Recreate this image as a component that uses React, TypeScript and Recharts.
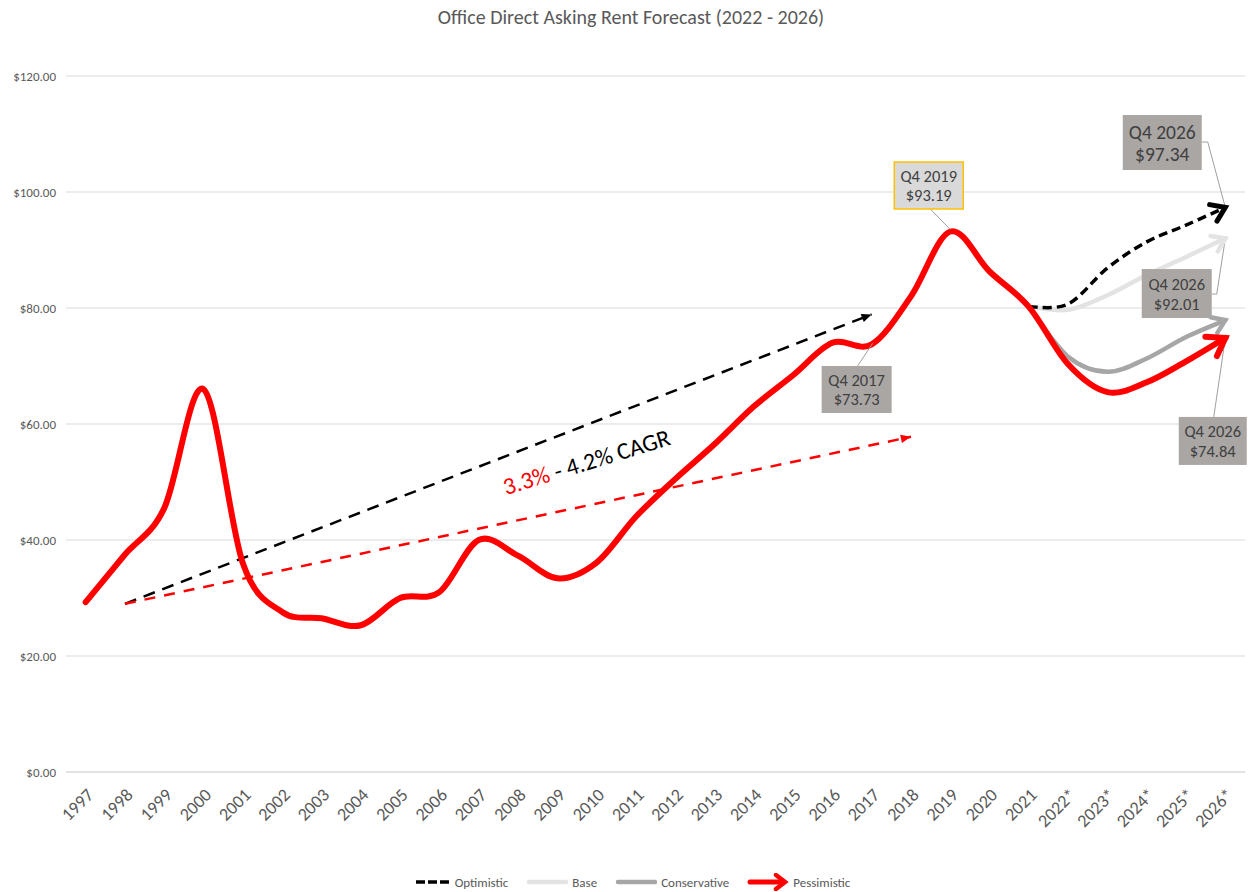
import React from "react";
import { CartesianGrid, Legend, Line, LineChart, ReferenceDot, XAxis, YAxis } from "recharts";

const years = [
  "1997", "1998", "1999", "2000", "2001", "2002", "2003", "2004", "2005", "2006",
  "2007", "2008", "2009", "2010", "2011", "2012", "2013", "2014", "2015", "2016",
  "2017", "2018", "2019", "2020", "2021", "2022*", "2023*", "2024*", "2025*", "2026*",
];

// historical rent 1997-2021, then the pessimistic forecast
const pessimistic = [
  29.3, 37.5, 45.5, 66.0, 36.0, 27.6, 26.5, 25.3, 30.0, 31.0,
  40.0, 37.3, 33.4, 36.1, 44.0, 50.5, 56.5, 63.0, 68.4, 74.0,
  73.73, 82.0, 93.19, 86.3, 80.2, 70.3, 65.5, 67.2, 70.8, 74.84,
];

// forecasts start at 2021
const forecastYears = ["2021", "2022*", "2023*", "2024*", "2025*", "2026*"];
const optimistic = [80.2, 80.7, 86.9, 91.4, 94.3, 97.34];
const base = [80.2, 79.7, 82.2, 85.7, 88.8, 92.01];
const conservative = [80.2, 71.6, 69.0, 71.3, 75.0, 77.9];

// CAGR trend lines
const trendHighYears = ["1998", "2017"];
const trendHigh = [29.0, 78.9];
const trendLowYears = ["1998", "2018"];
const trendLow = [29.0, 57.8];

const yTicks = [0, 20, 40, 60, 80, 100, 120];

const callouts = [
  { id: "q419", year: "2019", value: 93.19, label: "Q4 2019", price: "$93.19" },
  { id: "q417", year: "2017", value: 73.73, label: "Q4 2017", price: "$73.73" },
  { id: "opt", year: "2026*", value: 97.34, label: "Q4 2026", price: "$97.34" },
  { id: "base", year: "2026*", value: 92.01, label: "Q4 2026", price: "$92.01" },
  { id: "pess", year: "2026*", value: 74.84, label: "Q4 2026", price: "$74.84" },
];

const calloutLayout: Record<string, any> = {
  q419: { box: [-56, -69.5], w: 69, h: 47, fs: 16.5, fill: "#d9d9d9", stroke: "#ffc000", leader: [[-20, -22.5], [0, -2]] },
  q417: { box: [-50, 21.6], w: 70, h: 47, fs: 16.5, fill: "#aaa6a4", leader: [[-14, 21.6], [1, -1]] },
  opt: { box: [-102.6, -92.4], w: 79, h: 55, fs: 19.5, fill: "#aaa6a4", leader: [[-23.6, -65.4], [-17.6, -65.4], [0, 0]] },
  base: { box: [-83.6, 30.7], w: 70, h: 49, fs: 16.5, fill: "#aaa6a4", leader: [[-13.6, 55.7], [-8.6, 55.7], [0, 0]] },
  pess: { box: [-46.6, 79], w: 68, h: 48, fs: 16.5, fill: "#aaa6a4", leader: [[-11.6, 79], [0, 0]] },
};

const rows = years.map((year, i) => {
  const f = forecastYears.indexOf(year);
  const th = trendHighYears.indexOf(year);
  const tl = trendLowYears.indexOf(year);
  return {
    year,
    pessimistic: pessimistic[i],
    optimistic: f >= 0 ? optimistic[f] : null,
    base: f >= 0 ? base[f] : null,
    conservative: f >= 0 ? conservative[f] : null,
    trendHigh: th >= 0 ? trendHigh[th] : null,
    trendLow: tl >= 0 ? trendLow[tl] : null,
  };
});

// Excel-like smoothing (Catmull-Rom through the points)
function excelSmooth(context: any) {
  let pts: number[][] = [];
  return {
    areaStart() {},
    areaEnd() {},
    lineStart() {
      pts = [];
    },
    point(x: number, y: number) {
      pts.push([+x, +y]);
    },
    lineEnd() {
      const n = pts.length;
      if (!n) return;
      context.moveTo(pts[0][0], pts[0][1]);
      for (let i = 0; i < n - 1; i++) {
        const p0 = pts[i - 1] || pts[i];
        const p1 = pts[i];
        const p2 = pts[i + 1];
        const p3 = pts[i + 2] || p2;
        context.bezierCurveTo(
          p1[0] + (p2[0] - p0[0]) / 6,
          p1[1] + (p2[1] - p0[1]) / 6,
          p2[0] - (p3[0] - p1[0]) / 6,
          p2[1] - (p3[1] - p1[1]) / 6,
          p2[0],
          p2[1],
        );
      }
    },
  };
}

// arrow head drawn on the last defined point of a series
function arrowDot(color: string, len: number, width: number, spread: number, filled = false) {
  return (props: any) => {
    const { cx, cy, index, points } = props;
    const key = `arrow-${index}`;
    if (cx == null || cy == null || !points) return <g key={key} />;
    for (let j = index + 1; j < points.length; j++) {
      if (points[j] && points[j].y != null) return <g key={key} />;
    }
    let prev: any = null;
    for (let j = index - 1; j >= 0; j--) {
      if (points[j] && points[j].y != null) {
        prev = points[j];
        break;
      }
    }
    if (!prev) return <g key={key} />;
    const ang = Math.atan2(cy - prev.y, cx - prev.x);
    const a1 = ang + Math.PI - spread;
    const a2 = ang + Math.PI + spread;
    const p1 = `${cx + len * Math.cos(a1)},${cy + len * Math.sin(a1)}`;
    const p2 = `${cx + len * Math.cos(a2)},${cy + len * Math.sin(a2)}`;
    if (filled) {
      return <polygon key={key} points={`${p1} ${cx},${cy} ${p2}`} fill={color} stroke="none" />;
    }
    return (
      <polyline
        key={key}
        points={`${p1} ${cx},${cy} ${p2}`}
        fill="none"
        stroke={color}
        strokeWidth={width}
        strokeLinecap="round"
        strokeLinejoin="miter"
        strokeDasharray="none"
      />
    );
  };
}

function calloutShape(label: string, price: string, lay: any) {
  return (props: any) => {
    const { cx, cy } = props;
    if (cx == null || cy == null) return <g />;
    const x0 = cx + lay.box[0];
    const y0 = cy + lay.box[1];
    const leader = lay.leader.map(([dx, dy]: number[]) => `${cx + dx},${cy + dy}`).join(" ");
    return (
      <g>
        <polyline points={leader} fill="none" stroke="#a0a0a0" strokeWidth={1} />
        <rect
          x={x0}
          y={y0}
          width={lay.w}
          height={lay.h}
          fill={lay.fill}
          stroke={lay.stroke || "none"}
          strokeWidth={lay.stroke ? 1.5 : 0}
        />
        <text x={x0 + lay.w / 2} y={y0 + lay.h * 0.3} textAnchor="middle" dominantBaseline="central" fontSize={lay.fs} fill="#404040">
          {label}
        </text>
        <text x={x0 + lay.w / 2} y={y0 + lay.h * 0.71} textAnchor="middle" dominantBaseline="central" fontSize={lay.fs} fill="#404040">
          {price}
        </text>
      </g>
    );
  };
}

function cagrShape(props: any) {
  const { cx, cy } = props;
  if (cx == null || cy == null) return <g />;
  return (
    <text transform={`rotate(-17 ${cx} ${cy})`} x={cx - 8} y={cy} textAnchor="middle" fontSize={24}>
      <tspan fill="#ff0000">3.3%</tspan>
      <tspan fill="#000000"> - 4.2% CAGR</tspan>
    </text>
  );
}

function LegendIcon({ kind }: { kind: string }) {
  if (kind === "optimistic") {
    return (
      <svg width={36} height={14}>
        <line x1={1} y1={7} x2={35} y2={7} stroke="#000" strokeWidth={3.5} strokeDasharray="9 3" />
      </svg>
    );
  }
  if (kind === "base" || kind === "conservative") {
    return (
      <svg width={42} height={14}>
        <line x1={3} y1={7} x2={40} y2={7} stroke={kind === "base" ? "#e3e3e3" : "#a6a6a6"} strokeWidth={4.5} strokeLinecap="round" />
      </svg>
    );
  }
  return (
    <svg width={42} height={18}>
      <line x1={3} y1={9} x2={37} y2={9} stroke="#ff0000" strokeWidth={5} strokeLinecap="round" />
      <polyline points="29,2 38,9 29,16" fill="none" stroke="#ff0000" strokeWidth={4.5} strokeLinecap="round" />
    </svg>
  );
}

const legendItems = [
  { kind: "optimistic", label: "Optimistic" },
  { kind: "base", label: "Base" },
  { kind: "conservative", label: "Conservative" },
  { kind: "pessimistic", label: "Pessimistic" },
];

function renderLegend() {
  return (
    <div style={{ display: "flex", justifyContent: "center", alignItems: "center", height: 20, paddingLeft: 38 }}>
      {legendItems.map((item) => (
        <div key={item.kind} style={{ display: "flex", alignItems: "center", marginRight: 18 }}>
          <LegendIcon kind={item.kind} />
          <span style={{ marginLeft: 4, fontSize: 13, color: "#595959" }}>{item.label}</span>
        </div>
      ))}
    </div>
  );
}

export default function App() {
  return (
    <div
      style={{
        position: "absolute",
        left: 0,
        top: 0,
        width: 1248,
        height: 892,
        background: "#fff",
        fontFamily: "Calibri, Carlito, 'Liberation Sans', Arial, sans-serif",
      }}
    >
      <div style={{ position: "absolute", top: 5, left: 14, width: 1234, textAlign: "center", fontSize: 20, color: "#595959" }}>
        Office Direct Asking Rent Forecast (2022 - 2026)
      </div>
      <LineChart width={1248} height={892} data={rows} margin={{ top: 76, right: 3, bottom: 0, left: 0 }}>
        <CartesianGrid vertical={false} stroke="#d9d9d9" />
        <XAxis
          dataKey="year"
          interval={0}
          padding={{ left: 19.65, right: 19.65 }}
          tickLine={false}
          axisLine={{ stroke: "#d9d9d9" }}
          angle={-45}
          textAnchor="end"
          height={100}
          tickMargin={9}
          tick={{ fill: "#595959", fontSize: 18 }}
        />
        <YAxis
          width={66}
          domain={[0, 120]}
          ticks={yTicks}
          axisLine={false}
          tickLine={false}
          tickMargin={4}
          tick={{ fill: "#595959", fontSize: 13 }}
          tickFormatter={(v: number) => `$${v.toFixed(2)}`}
        />
        <Legend verticalAlign="bottom" height={20} content={renderLegend} />
        <Line
          dataKey="trendHigh"
          type="linear"
          connectNulls
          stroke="#000"
          strokeWidth={2.5}
          strokeDasharray="12 8"
          dot={arrowDot("#000", 11, 2, 0.4, true)}
          activeDot={false}
          isAnimationActive={false}
          legendType="none"
        />
        <Line
          dataKey="trendLow"
          type="linear"
          connectNulls
          stroke="#ff0000"
          strokeWidth={2.5}
          strokeDasharray="11 9"
          dot={arrowDot("#ff0000", 11, 2, 0.4, true)}
          activeDot={false}
          isAnimationActive={false}
          legendType="none"
        />
        <Line
          dataKey="base"
          type={excelSmooth as any}
          stroke="#e3e3e3"
          strokeWidth={4.5}
          strokeLinecap="round"
          dot={arrowDot("#e3e3e3", 15, 4.5, 0.6)}
          activeDot={false}
          isAnimationActive={false}
        />
        <Line
          dataKey="conservative"
          type={excelSmooth as any}
          stroke="#a6a6a6"
          strokeWidth={4.5}
          strokeLinecap="round"
          dot={arrowDot("#a6a6a6", 15, 4.5, 0.6)}
          activeDot={false}
          isAnimationActive={false}
        />
        <Line
          dataKey="optimistic"
          type={excelSmooth as any}
          stroke="#000"
          strokeWidth={3.5}
          strokeDasharray="9 5"
          dot={arrowDot("#000", 16, 5, 0.6)}
          activeDot={false}
          isAnimationActive={false}
        />
        <Line
          dataKey="pessimistic"
          type={excelSmooth as any}
          stroke="#ff0000"
          strokeWidth={6}
          strokeLinecap="round"
          strokeLinejoin="round"
          dot={arrowDot("#ff0000", 20, 6, 0.6)}
          activeDot={false}
          isAnimationActive={false}
        />
        <ReferenceDot x="2010" y={52.5} r={0} ifOverflow="visible" shape={cagrShape} />
        {callouts.map((c) => (
          <ReferenceDot
            key={c.id}
            x={c.year}
            y={c.value}
            r={0}
            ifOverflow="visible"
            shape={calloutShape(c.label, c.price, calloutLayout[c.id])}
          />
        ))}
      </LineChart>
    </div>
  );
}
